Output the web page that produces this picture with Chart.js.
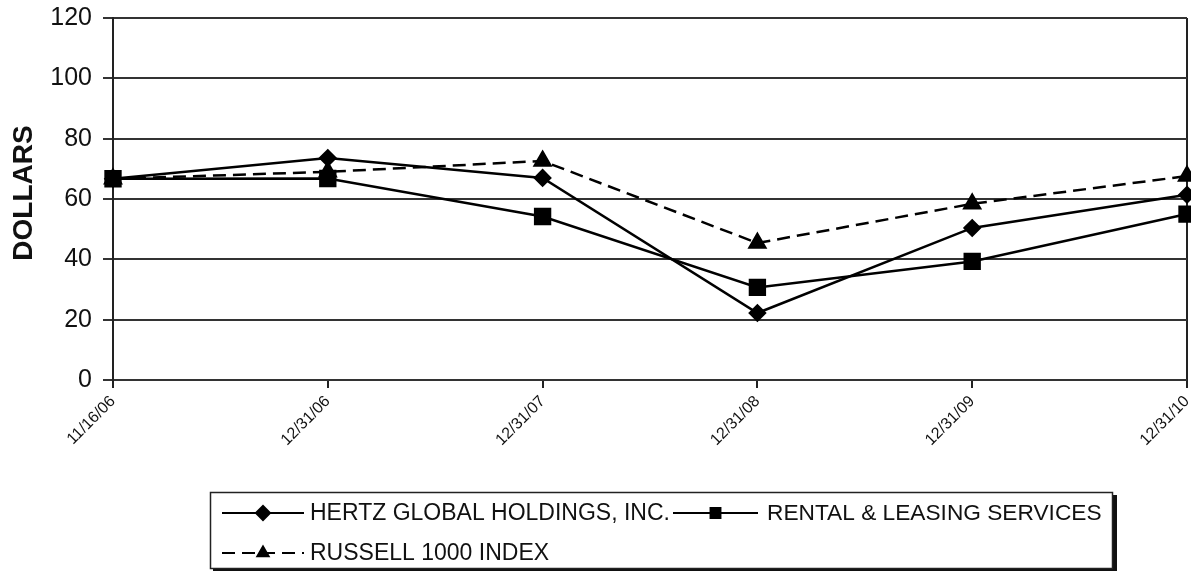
<!DOCTYPE html>
<html>
<head>
<meta charset="utf-8">
<script src="https://cdn.jsdelivr.net/npm/chart.js@4/dist/chart.umd.min.js"></script>
<style>
  html, body { margin: 0; padding: 0; background: #fff; }
  #wrap { width: 1191px; height: 571px; }
</style>
</head>
<body>
<div id="wrap"><canvas id="chartForReturns"></canvas></div>
<script>
var labels = ['11/16/06', '12/31/06', '12/31/07', '12/31/08', '12/31/09', '12/31/10'];
var hertz = [66.7, 73.6, 67.0, 22.2, 50.4, 61.4];
var rental = [66.7, 66.8, 54.2, 30.7, 39.3, 55.0];
var russell = [66.7, 69.0, 72.6, 45.4, 58.4, 67.6];
var yTicks = [0, 20, 40, 60, 80, 100, 120];

var FONT = '"Liberation Sans", Arial, sans-serif';

// y title and boxed legend drawn by hand
var boxLegend = {
  id: 'boxLegend',
  afterDraw: function (chart) {
    var ctx = chart.ctx;
    var sets = chart.data.datasets;
    var spots = [
      { x: 222, y: 513, len: 82, gap: 88 },
      { x: 673, y: 513, len: 85, gap: 94 },
      { x: 222, y: 553, len: 82, gap: 88 }
    ];

    ctx.save();
    // vertical axis title
    ctx.translate(23, 193);
    ctx.rotate(-Math.PI / 2);
    ctx.fillStyle = '#111';
    ctx.font = 'bold 28px ' + FONT;
    ctx.textAlign = 'center';
    ctx.textBaseline = 'middle';
    ctx.fillText('DOLLARS', 0, 1);
    ctx.restore();

    ctx.save();
    // shadow on the right and bottom
    ctx.fillStyle = '#111';
    ctx.fillRect(1113, 495, 4, 76);
    ctx.fillRect(213, 568, 904, 3);
    ctx.strokeStyle = '#222';
    ctx.lineWidth = 1.5;
    ctx.strokeRect(210.5, 492.5, 902, 76);

    for (var i = 0; i < sets.length; i++) {
      var ds = sets[i];
      var p = spots[i];
      ctx.strokeStyle = '#000';
      ctx.lineWidth = 2;
      ctx.setLineDash(ds.borderDash || []);
      ctx.beginPath();
      ctx.moveTo(p.x, p.y);
      ctx.lineTo(p.x + p.len, p.y);
      ctx.stroke();
      ctx.setLineDash([]);
      ctx.fillStyle = '#000';
      Chart.helpers.drawPoint(ctx, {
        pointStyle: ds.pointStyle,
        radius: ds.legendRadius,
        borderWidth: 1,
        rotation: 0
      }, p.x + p.len / 2, p.y);

      ctx.fillStyle = '#111';
      ctx.font = (i === 1 ? '22.7px ' : '23px ') + FONT;
      ctx.textBaseline = 'middle';
      ctx.textAlign = 'left';
      ctx.fillText(ds.label, p.x + p.gap, p.y + 1);
    }
    ctx.restore();
  }
};

var ctx = document.getElementById('chartForReturns');
var chart = new Chart(ctx, {
  type: 'line',
  data: {
    labels: labels,
    datasets: [
      {
        label: 'HERTZ GLOBAL HOLDINGS, INC.',
        data: hertz,
        borderColor: '#000',
        backgroundColor: '#000',
        borderWidth: 2.5,
        pointStyle: 'rectRot',
        pointRadius: 7.5,
        legendRadius: 7,
        tension: 0
      },
      {
        label: 'RENTAL & LEASING SERVICES',
        data: rental,
        borderColor: '#000',
        backgroundColor: '#000',
        borderWidth: 2.5,
        pointStyle: 'rect',
        pointRadius: 10.5,
        legendRadius: 7,
        tension: 0
      },
      {
        label: 'RUSSELL 1000 INDEX',
        data: russell,
        borderColor: '#000',
        backgroundColor: '#000',
        borderWidth: 2.5,
        borderDash: [13, 7],
        pointStyle: 'triangle',
        pointRadius: 9,
        legendRadius: 6.5,
        tension: 0
      }
    ]
  },
  options: {
    responsive: true,
    maintainAspectRatio: false,
    animation: false,
    layout: {
      autoPadding: false,
      padding: { top: 18, right: 4, left: 0, bottom: 0 }
    },
    plugins: {
      legend: { display: false },
      tooltip: { enabled: false }
    },
    scales: {
      x: {
        offset: false,
        afterFit: function (scale) {
          scale.height = 191;
          scale.paddingLeft = 0;
          scale.paddingRight = 0;
        },
        border: { display: false },
        grid: {
          drawOnChartArea: true,
          color: function (c) {
            return c.index === labels.length - 1 ? '#222' : 'rgba(0,0,0,0)';
          },
          lineWidth: 2,
          tickColor: '#222',
          tickLength: 8
        },
        ticks: {
          minRotation: 45,
          maxRotation: 45,
          autoSkip: false,
          padding: 4,
          color: '#111',
          font: { family: FONT, size: 16 }
        }
      },
      y: {
        min: 0,
        max: 120,
        afterFit: function (scale) {
          scale.width = 113;
          scale.paddingTop = 0;
          scale.paddingBottom = 0;
        },
        afterBuildTicks: function (scale) {
          scale.ticks = yTicks.map(function (v) { return { value: v }; });
        },
        border: { display: true, color: '#222', width: 2 },
        grid: {
          color: '#333',
          lineWidth: 2,
          tickColor: '#333',
          tickLength: 10
        },
        ticks: {
          padding: 11,
          color: '#111',
          font: { family: FONT, size: 25 }
        }
      }
    }
  },
  plugins: [boxLegend]
});
</script>
</body>
</html>
